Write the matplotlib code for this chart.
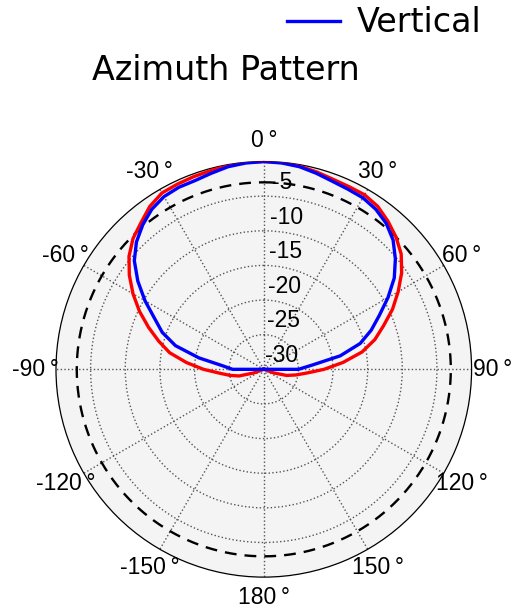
import numpy as np
import matplotlib
matplotlib.use("Agg")
import matplotlib.pyplot as plt

# ============================================================
# DATA
# ============================================================
angles_deg = np.arange(-180, 185, 5)

vertical_db = [-30] * 18 + [
    -25.5, -24.0, -20.5, -16.8, -14.4, -12.6, -10.2, -7.8, -5.6, -4.0,
    -2.8, -1.8, -1.2, -1.0, -1.0, -0.7, -0.3, -0.1, 0.0, -0.1,
    -0.3, -0.7, -1.1, -1.3, -1.4, -1.8, -2.5, -3.6, -5.2, -7.0,
    -9.3, -11.6, -13.5, -15.6, -18.8, -23.0, -25.0,
] + [-30] * 18

horizontal_db = [-30] * 14 + [
    -28.5, -26.3, -25.0, -23.6, -21.3, -18.8, -16.2, -14.3, -12.3, -10.2,
    -8.2, -6.3, -4.6, -3.3, -2.4, -1.3, -0.6, -0.5, -0.4, -0.3,
    -0.1, 0.0, 0.0, 0.0, -0.2, -0.5, -0.8, -0.9, -0.9, -1.3,
    -2.1, -3.0, -4.1, -5.7, -7.6, -9.5, -11.6, -13.4, -15.6, -18.5,
    -21.3, -23.8, -25.3, -26.6, -28.5,
] + [-30] * 14

r_ticks = [-30, -25, -20, -15, -10, -5]
theta_ticks = [0, 30, 60, 90, 120, 150, 180, -150, -120, -90, -60, -30]
half_power_db = -3

R_MIN, R_MAX = -30, 0
TICK_FONT = ["Liberation Sans", "DejaVu Sans"]

# ============================================================
# PLOT
# ============================================================
fig = plt.figure(figsize=(5.14, 6.10), dpi=100)
ax = fig.add_axes([0.1089, 0.0539, 0.8086, 0.6813], projection="polar")
ax.set_facecolor("#f4f4f4")
ax.set_theta_zero_location("N")
ax.set_theta_direction(-1)

theta = np.deg2rad(angles_deg)
ax.plot(theta, np.clip(horizontal_db, R_MIN, None), color="#ff0000", lw=2.4,
        label="_nolegend_", zorder=4)
ax.plot(theta, np.clip(vertical_db, R_MIN, None), color="#0000ff", lw=2.4,
        label="Vertical", zorder=5)

# -3 dB circle
circ = np.linspace(0, 2 * np.pi, 361)
ax.plot(circ, np.full_like(circ, half_power_db), color="black", lw=1.7,
        ls=(0, (5, 3.4)), zorder=3)

ax.set_thetalim(0, 2 * np.pi)
ax.set_rlim(R_MIN, R_MAX)
ax.set_yticks(r_ticks)
ax.set_yticklabels([])
ax.set_xticks(np.deg2rad(theta_ticks) % (2 * np.pi))
ax.set_xticklabels([f"{t}\u2009°" for t in theta_ticks],
                   fontfamily=TICK_FONT, fontsize=16.5)
ax.tick_params(axis="x", pad=4.5)

ax.grid(True, linestyle=":", color="#555555", linewidth=1.0)
ax.spines["polar"].set_color("black")
ax.spines["polar"].set_linewidth(0.9)

# radial labels (slightly above the rings)
for v in r_ticks:
    ax.annotate(f"{v}", xy=(np.deg2rad(2.2), v), xytext=(1, 10),
                textcoords="offset points", ha="left", va="center",
                fontfamily=TICK_FONT, fontsize=16.5, zorder=6)

fig.text(92 / 514, 1 - 70 / 610, "Azimuth Pattern", ha="left", va="center",
         fontsize=24)
fig.legend(loc="center", bbox_to_anchor=(384 / 514, 1 - 23 / 610),
           frameon=False, fontsize=24, handlelength=1.6, handletextpad=0.5)

plt.savefig("out.png", dpi=100)
